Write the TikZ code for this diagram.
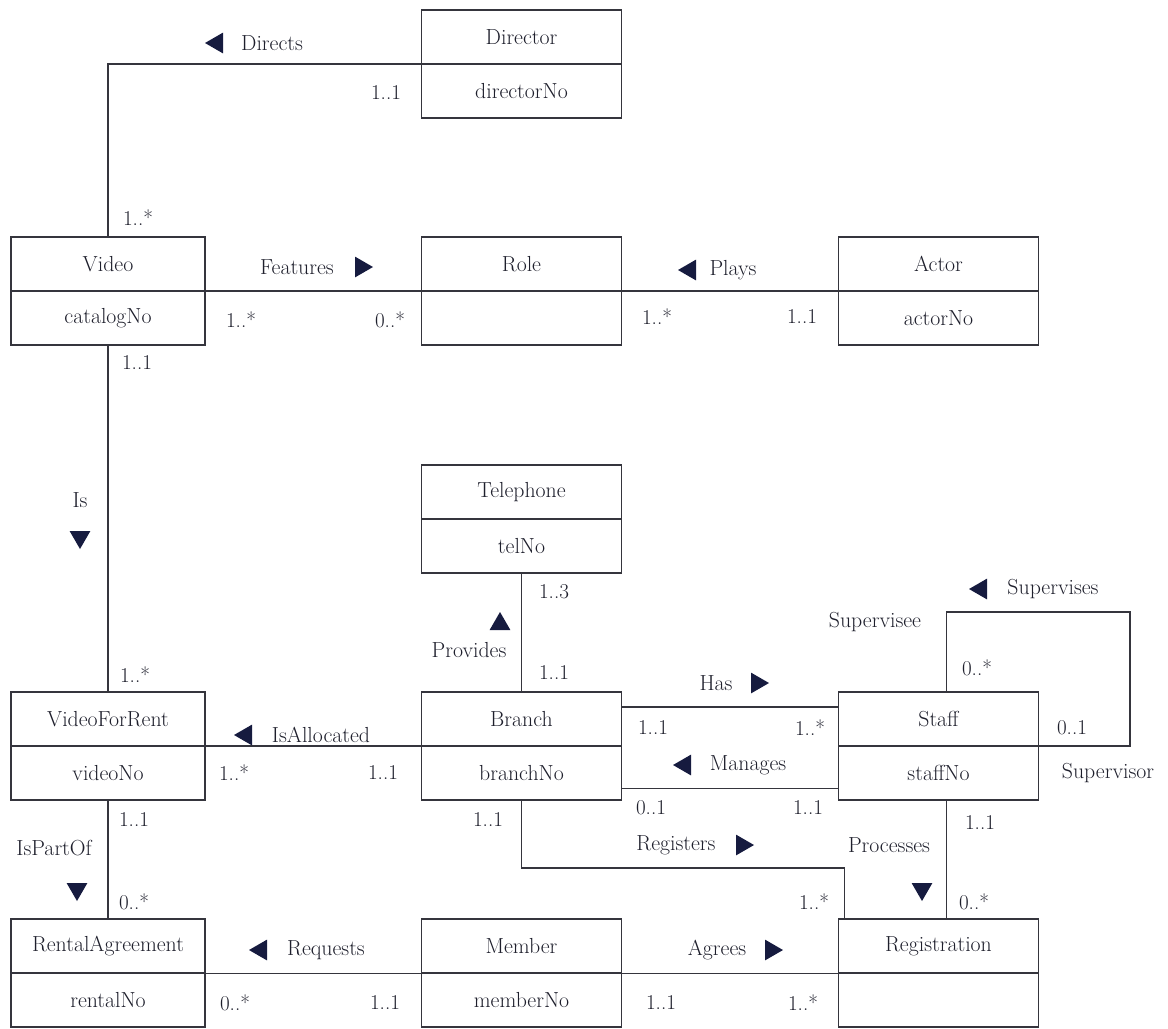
\documentclass[tikz,border=0pt]{standalone}
\usepackage{fontspec}
\usepackage{tikz}
\usetikzlibrary{positioning,shapes.geometric}
\definecolor{umlink}{HTML}{1E1F2C}
\definecolor{umlline}{HTML}{35353D}
\definecolor{umlptr}{HTML}{161B3F}
\tikzset{
  ent/.style={
    draw=umlline, line width=0.8pt, minimum width=#1, minimum height=1.35cm,
    inner sep=0pt, outer sep=0pt, text=umlink, font=\fontsize{15.5}{18}\selectfont},
  ent/.default=5.0cm,
  assoc/.style={draw=umlline, line width=0.75pt},
  rel/.style={text=umlink, font=\fontsize{15.5}{18}\selectfont, inner sep=1pt},
  mult/.style={text=umlink, font=\fontsize{15}{18}\selectfont, inner sep=1pt},
  ptr/.style={
    regular polygon, regular polygon sides=3, fill=umlptr, inner sep=0pt,
    minimum size=0.6cm, rotate=#1},
}

\begin{document}
\begin{tikzpicture}[x=0.025cm,y=-0.025cm]
\useasboundingbox (0,0) rectangle (1168,1028);

% entities, name on top and key below
\node[ent] (dir) at (521.5,37) {Director};
\node[ent,below=0pt of dir] (dirk) {directorNo};

\node[ent=4.85cm] (vid) at (108,264) {Video};
\node[ent=4.85cm,below=0pt of vid] (vidk) {catalogNo};
\node[ent] (role) at (521.5,264) {Role};
\node[ent,below=0pt of role] (rolek) {};
\node[ent] (act) at (938.5,264) {Actor};
\node[ent,below=0pt of act] (actk) {actorNo};

\node[ent] (tel) at (521.5,492) {Telephone};
\node[ent,below=0pt of tel] (telk) {telNo};

\node[ent=4.85cm] (vfr) at (108,719) {VideoForRent};
\node[ent=4.85cm,below=0pt of vfr] (vfrk) {videoNo};
\node[ent] (br) at (521.5,719) {Branch};
\node[ent,below=0pt of br] (brk) {branchNo};
\node[ent] (stf) at (938.5,719) {Staff};
\node[ent,below=0pt of stf] (stfk) {staffNo};

\node[ent=4.85cm] (ra) at (108,946) {RentalAgreement};
\node[ent=4.85cm,below=0pt of ra] (rak) {rentalNo};
\node[ent] (mem) at (521.5,946) {Member};
\node[ent,below=0pt of mem] (memk) {memberNo};
\node[ent] (reg) at (938.5,946) {Registration};
\node[ent,below=0pt of reg] (regk) {};

% Directs
\draw[assoc] (dir.south west) -| (vid.north);
\node[ptr=90] (tdir) at (217,43) {};
\node[rel] (ldir) at (272,43) {Directs};
\node[mult] (mdir1) at (386,93) {1..1};
\node[mult] (mdir2) at (138,218) {1..*};

% Features
\draw[assoc] (vid.south east) -- (role.south west);
\node[rel] (lfea) at (297,267) {Features};
\node[ptr=-90] (tfea) at (361,267) {};
\node[mult] (mfea1) at (241,320) {1..*};
\node[mult] (mfea2) at (390,320) {0..*};

% Plays
\draw[assoc] (act.south west) -- (role.south east);
\node[ptr=90] (tpla) at (690,270) {};
\node[rel] (lpla) at (733,270) {Plays};
\node[mult] (mpla1) at (657,317) {1..*};
\node[mult] (mpla2) at (802,317) {1..1};

% Is
\draw[assoc] (vidk.south) -- (vfr.north);
\node[mult] (mis1) at (137,363) {1..1};
\node[rel] (lis) at (80,500) {Is};
\node[ptr=180] (tis) at (80,537) {};
\node[mult] (mis2) at (135,675) {1..*};

% Provides
\draw[assoc] (telk.south) -- (br.north);
\node[mult] (mpro1) at (554,592) {1..3};
\node[ptr=0] (tpro) at (500,624) {};
\node[rel] (lpro) at (469,650) {Provides};
\node[mult] (mpro2) at (554,673) {1..1};

% IsAllocated
\draw[assoc] (br.south west) -- (vfr.south east);
\node[ptr=90] (tall) at (246,735) {};
\node[rel] (lall) at (321,735) {IsAllocated};
\node[mult] (mall1) at (234,773) {1..*};
\node[mult] (mall2) at (383,773) {1..1};

% Has
\draw[assoc] ([yshift=-0.375cm]br.north east) -- ([yshift=-0.375cm]stf.north west);
\node[rel] (lhas) at (716,683) {Has};
\node[ptr=-90] (thas) at (757,683) {};
\node[mult] (mhas1) at (653,728) {1..1};
\node[mult] (mhas2) at (810,728) {1..*};

% Manages
\draw[assoc] ([yshift=0.3cm]brk.south east) -- ([yshift=0.3cm]stfk.south west);
\node[ptr=90] (tman) at (685,765) {};
\node[rel] (lman) at (748,765) {Manages};
\node[mult] (mman1) at (651,808) {0..1};
\node[mult] (mman2) at (808,808) {1..1};

% Supervises, back to Staff
\coordinate (sloop) at (1130,612);
\draw[assoc] ([xshift=0.19cm]stf.north) |- (sloop) |- (stf.south east);
\node[ptr=90] (tsup) at (981,589) {};
\node[rel] (lsup) at (1053,589) {Supervises};
\node[rel] (lsee) at (875,622) {Supervisee};
\node[mult] (msup1) at (977,668) {0..*};
\node[mult] (msup2) at (1072,728) {0..1};
\node[rel] (lsor) at (1108,773) {Supervisor};

% Registers
\coordinate (rbend) at (0,868);
\draw[assoc] (brk.south) -- (brk.south |- rbend) -| ([xshift=0.15cm]reg.north west);
\node[mult] (mreg1) at (488,820) {1..1};
\node[rel] (lreg) at (676,845) {Registers};
\node[ptr=-90] (treg) at (742,845) {};
\node[mult] (mreg2) at (814,902) {1..*};

% Processes
\draw[assoc] ([xshift=0.19cm]stfk.south) -- ([xshift=0.19cm]reg.north);
\node[mult] (mprc1) at (980,823) {1..1};
\node[rel] (lprc) at (889,845) {Processes};
\node[ptr=180] (tprc) at (922,889) {};
\node[mult] (mprc2) at (974,902) {0..*};

% IsPartOf
\draw[assoc] (vfrk.south) -- (ra.north);
\node[mult] (mpar1) at (134,820) {1..1};
\node[rel] (lpar) at (54,848) {IsPartOf};
\node[ptr=180] (tpar) at (77,889) {};
\node[mult] (mpar2) at (134,902) {0..*};

% Requests
\draw[assoc] (ra.south east) -- (mem.south west);
\node[ptr=90] (treq) at (261,950) {};
\node[rel] (lreq) at (326,950) {Requests};
\node[mult] (mreq1) at (235,1003) {0..*};
\node[mult] (mreq2) at (385,1003) {1..1};

% Agrees
\draw[assoc] (mem.south east) -- (reg.south west);
\node[rel] (lagr) at (717,950) {Agrees};
\node[ptr=-90] (tagr) at (771,950) {};
\node[mult] (magr1) at (661,1003) {1..1};
\node[mult] (magr2) at (803,1003) {1..*};

\end{tikzpicture}
\end{document}
